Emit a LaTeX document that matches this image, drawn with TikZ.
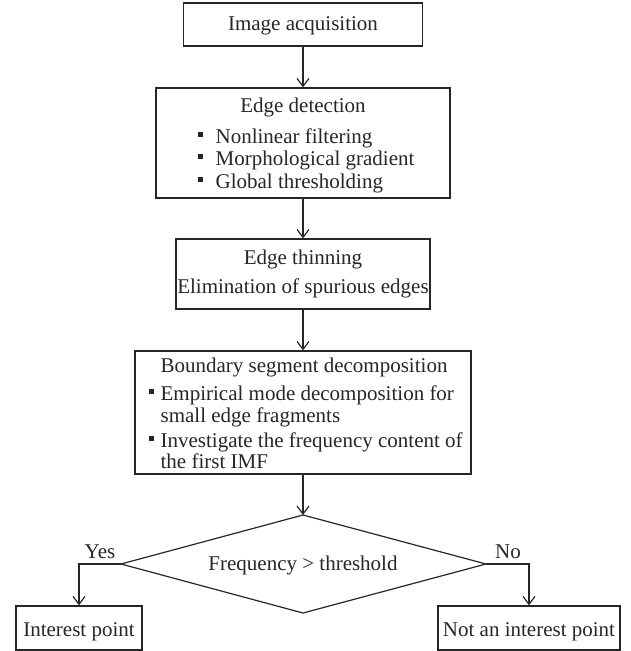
\documentclass[tikz,border=0pt]{standalone}
\usepackage{fontspec}
\setmainfont{Liberation Serif}
\usetikzlibrary{arrows.meta}
\begin{document}
\begin{tikzpicture}[x=1pt,y=-1pt,
  line width=1.2pt,
  every node/.style={font=\fontsize{21}{23}\selectfont, inner sep=0pt, text=black!85},
  box/.style 2 args={draw=black!85, line width=1.2pt, minimum width=#1, minimum height=#2, inner sep=0pt},
  arr/.style={draw=black!85, line width=1.2pt, -{Straight Barb[length=8pt,width=12pt,line width=1.2pt]}},
  lbl/.style={anchor=base},
  itm/.style={anchor=base west},
  sq/.style={fill=black!85}
]
\useasboundingbox (0,0) rectangle (630,651);

% boxes
\node[box={239pt}{43pt}] (b1) at (303,24.5) {};
\node[box={294pt}{110pt}] (b2) at (303,143) {};
\node[box={254pt}{70pt}] (b3) at (303,274) {};
\node[box={336pt}{123pt}] (b4) at (303,412.5) {};
\node[box={126pt}{44pt}] (ip) at (79,628) {};
\node[box={182pt}{44pt}] (nip) at (529,628) {};

% diamond
\coordinate (dt) at (303,515);
\coordinate (dr) at (486,564);
\coordinate (db) at (303,613);
\coordinate (dl) at (121,564);
\draw[draw=black!85] (dt) -- (dr) -- (db) -- (dl) -- cycle;

% texts
\node[lbl] (t1) at (303,30) {Image acquisition};

\node[lbl] (t2) at (303,112) {Edge detection};
\node[itm] (t2a) at (215,143) {Nonlinear filtering};
\node[itm] (t2b) at (215,165) {Morphological gradient};
\node[itm] (t2c) at (215,188) {Global thresholding};
\foreach \yy in {143,165,188}{\fill[sq] (198,\yy-11.5) rectangle (203,\yy-6.5);}

\node[lbl] (t3a) at (303,264) {Edge thinning};
\node[lbl] (t3b) at (303,293) {Elimination of spurious edges};

\node[lbl] (t4) at (304,372) {Boundary segment decomposition};
\node[itm] (t4a) at (160,400) {Empirical mode decomposition for};
\node[itm] (t4b) at (160,422) {small edge fragments};
\node[itm] (t4c) at (160,447) {Investigate the frequency content of};
\node[itm] (t4d) at (160,468) {the first IMF};
\foreach \yy in {400,447}{\fill[sq] (149,\yy-11.5) rectangle (154,\yy-6.5);}

\node[lbl] (tf) at (303,570) {Frequency > threshold};
\node[lbl] (tip) at (79,636) {Interest point};
\node[lbl] (tnip) at (529,636) {Not an interest point};

\node[lbl] (yes) at (100,558) {Yes};
\node[lbl] (no) at (508,558) {No};

% connectors
\draw[arr] (b1.south) -- (b2.north);
\draw[arr] (b2.south) -- (b3.north);
\draw[arr] (b3.south) -- (b4.north);
\draw[arr] (b4.south) -- (dt);
\draw[arr] (dl) -| (ip.north);
\draw[arr] (dr) -| (nip.north);
\end{tikzpicture}
\end{document}
